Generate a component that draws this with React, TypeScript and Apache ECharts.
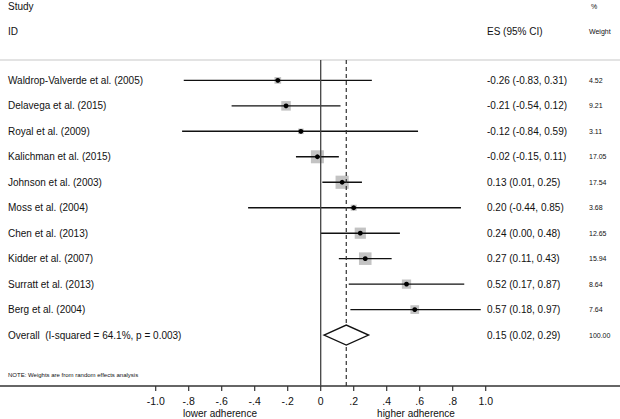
import React, { useEffect, useRef } from "react";
import * as echarts from "echarts";

const studies = [
  "Waldrop-Valverde et al. (2005)",
  "Delavega et al. (2015)",
  "Royal et al. (2009)",
  "Kalichman et al. (2015)",
  "Johnson et al. (2003)",
  "Moss et al. (2004)",
  "Chen et al. (2013)",
  "Kidder et al. (2007)",
  "Surratt et al. (2013)",
  "Berg et al. (2004)",
];
const effectSizes = [-0.26, -0.21, -0.12, -0.02, 0.13, 0.2, 0.24, 0.27, 0.52, 0.57];
const ciLow = [-0.83, -0.54, -0.84, -0.15, 0.01, -0.44, 0.0, 0.11, 0.17, 0.18];
const ciHigh = [0.31, 0.12, 0.59, 0.11, 0.25, 0.85, 0.48, 0.43, 0.87, 0.97];
const weights = [4.52, 9.21, 3.11, 17.05, 17.54, 3.68, 12.65, 15.94, 8.64, 7.64];

const overallLabel = "Overall  (I-squared = 64.1%, p = 0.003)";
const overallES = 0.155;
const overallESText = "0.15";
const overallLow = 0.02;
const overallHigh = 0.29;
const overallWeight = 100.0;

const tickValues = [-1.0, -0.8, -0.6, -0.4, -0.2, 0, 0.2, 0.4, 0.6, 0.8, 1.0];

const X_MIN = -320.7 / 165;
const X_MAX = (620 - 320.7) / 165;
const ROW_PX = 326 / 12.8;
const Y_TOP_RULE = -0.8;
const Y_AXIS = 12;
const Y_MIN = Y_TOP_RULE - 2 / ROW_PX;
const Y_MAX = Y_AXIS + 7 / ROW_PX;

const FONT = '"Liberation Sans", Arial, Helvetica, sans-serif';
const COL_NAME_X = 8;
const COL_ES_X = 487;
const COL_W_X = 589;

const fmt = (v: number) => v.toFixed(2);
const tickFmt = (v: number) => {
  if (Math.abs(v) < 1e-9) return "0";
  if (Math.abs(Math.abs(v) - 1) < 1e-9) return v < 0 ? "-1.0" : "1.0";
  const s = v.toFixed(1);
  return s.replace("0.", ".");
};

function txt(x: number, y: number, text: string, size: number, align = "left") {
  return {
    type: "text",
    x,
    y,
    style: {
      text,
      fill: "#111",
      fontSize: size,
      fontFamily: FONT,
      align,
      verticalAlign: "middle",
    },
  };
}

export default function App() {
  const ref = useRef<HTMLDivElement>(null);
  useEffect(() => {
    if (!ref.current) return;
    const chart = echarts.init(ref.current, undefined, { renderer: "svg" });
    const studyData = studies.map((_, i) => [i, effectSizes[i], ciLow[i], ciHigh[i], weights[i]]);
    const option: any = {
      animation: false,
      grid: { left: 0, right: 0, top: 58, bottom: 26 },
      xAxis: {
        type: "value",
        min: X_MIN,
        max: X_MAX,
        splitLine: { show: false },
        axisLine: { show: false, onZero: false },
        axisTick: { show: false },
        axisLabel: {
          show: true,
          customValues: tickValues,
          formatter: (v: number) => tickFmt(v),
          fontSize: 10.5,
          fontFamily: FONT,
          color: "#111",
          margin: 2,
        },
      },
      yAxis: {
        type: "value",
        inverse: true,
        min: Y_MIN,
        max: Y_MAX,
        show: false,
      },
      graphic: [
        txt(8, 6, "Study", 10),
        txt(8, 31, "ID", 10),
        txt(COL_ES_X, 31, "ES (95% CI)", 10),
        txt(COL_W_X + 2, 6, "%", 7),
        txt(COL_W_X, 31, "Weight", 7),
        txt(8, 375, "NOTE: Weights are from random effects analysis", 6),
        txt(220, 413, "lower adherence", 10, "center"),
        txt(416, 413, "higher adherence", 10, "center"),
      ],
      series: [
        {
          type: "custom",
          data: studyData,
          z: 2,
          renderItem: (params: any, api: any) => {
            const i = api.value(0);
            const idx = params.dataIndex;
            const y = api.coord([0, i])[1];
            const xc = api.coord([api.value(1), i])[0];
            const x0 = api.coord([api.value(2), i])[0];
            const x1 = api.coord([api.value(3), i])[0];
            const side = 3.15 * Math.sqrt(api.value(4));
            return {
              type: "group",
              children: [
                { type: "rect", shape: { x: xc - side / 2, y: y - side / 2, width: side, height: side }, style: { fill: "#c3c3c3" } },
                { type: "line", shape: { x1: x0, y1: y, x2: x1, y2: y }, style: { stroke: "#111", lineWidth: 1.4 } },
                { type: "circle", shape: { cx: xc, cy: y, r: 2.4 }, style: { fill: "#000" } },
                txt(COL_NAME_X, y, studies[idx], 10),
                txt(COL_ES_X, y, `${fmt(effectSizes[idx])} (${fmt(ciLow[idx])}, ${fmt(ciHigh[idx])})`, 10),
                txt(COL_W_X, y, fmt(weights[idx]), 7),
              ],
            };
          },
        },
        {
          type: "custom",
          data: [[studies.length, overallES, overallLow, overallHigh, overallWeight]],
          z: 3,
          renderItem: (params: any, api: any) => {
            const i = api.value(0);
            const y = api.coord([0, i])[1];
            const xc = api.coord([api.value(1), i])[0];
            const x0 = api.coord([api.value(2), i])[0];
            const x1 = api.coord([api.value(3), i])[0];
            const h = 10;
            const [xa, yTop] = api.coord([X_MIN, Y_TOP_RULE]);
            const [xb, yBot] = api.coord([X_MAX, Y_AXIS]);
            const zeroX = api.coord([0, Y_AXIS])[0];
            const ticks = tickValues.map((v) => {
              const tx = api.coord([v, Y_AXIS])[0];
              return { type: "rect", shape: { x: tx - 0.6, y: yBot, width: 1.2, height: 5 }, style: { fill: "#333" } };
            });
            return {
              type: "group",
              children: [
                { type: "rect", shape: { x: xa, y: yTop - 0.6, width: xb - xa, height: 1.2 }, style: { fill: "#c8c8c8" } },
                { type: "rect", shape: { x: xa, y: yBot - 0.75, width: xb - xa, height: 1.5 }, style: { fill: "#333" } },
                ...ticks,
                { type: "line", shape: { x1: zeroX, y1: yTop, x2: zeroX, y2: yBot }, style: { stroke: "#444", lineWidth: 1.3 } },
                { type: "line", shape: { x1: xc, y1: yTop, x2: xc, y2: yBot }, style: { stroke: "#333", lineWidth: 1.2, lineDash: [4, 3] } },
                {
                  type: "polygon",
                  shape: { points: [[x0, y], [xc, y - h], [x1, y], [xc, y + h]] },
                  style: { fill: "#fff", stroke: "#111", lineWidth: 1.4 },
                },
                txt(COL_NAME_X, y, overallLabel, 10),
                txt(COL_ES_X, y, `${overallESText} (${fmt(overallLow)}, ${fmt(overallHigh)})`, 10),
                txt(COL_W_X, y, fmt(overallWeight), 7),
              ],
            };
          },
        },
      ],
    };
    chart.setOption(option);
    return () => chart.dispose();
  }, []);
  return <div ref={ref} style={{ width: 620, height: 419, position: "absolute", left: 0, top: 0 }} />;
}
